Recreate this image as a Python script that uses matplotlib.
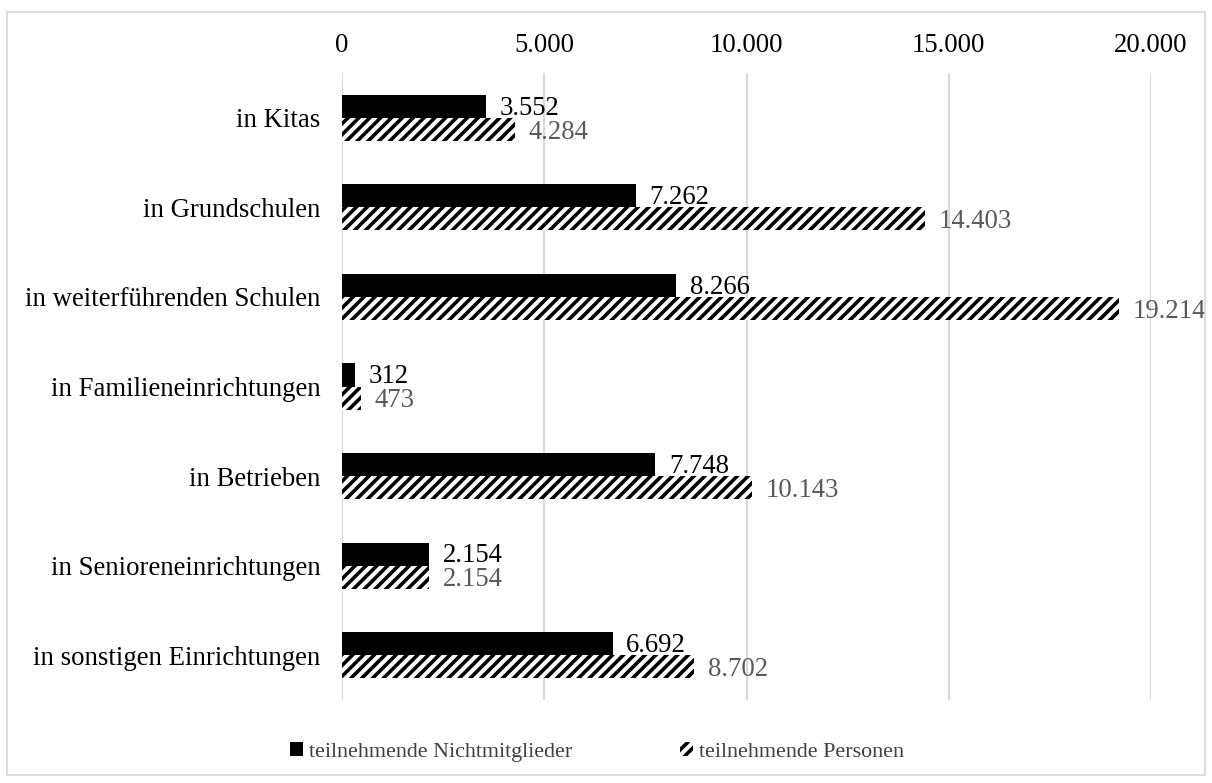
import matplotlib
matplotlib.use("Agg")
import matplotlib.pyplot as plt
from matplotlib.patches import Rectangle, Patch
from matplotlib.ticker import FuncFormatter

categories = [
    "in Kitas",
    "in Grundschulen",
    "in weiterführenden Schulen",
    "in Familieneinrichtungen",
    "in Betrieben",
    "in Senioreneinrichtungen",
    "in sonstigen Einrichtungen",
]
nichtmitglieder = [3552, 7262, 8266, 312, 7748, 2154, 6692]
personen = [4284, 14403, 19214, 473, 10143, 2154, 8702]
series_names = ["teilnehmende Nichtmitglieder", "teilnehmende Personen"]
x_ticks = [0, 5000, 10000, 15000, 20000]


def de_format(v):
    return f"{int(round(v)):,}".replace(",", ".")


DPI = 130
FS = 14.8
plt.rcParams["font.family"] = ["Liberation Serif", "DejaVu Serif"]
plt.rcParams["hatch.linewidth"] = 2.0

fig = plt.figure(figsize=(1212 / DPI, 783 / DPI), dpi=DPI)
ax = fig.add_axes([342 / 1212, 1 - 700 / 783, (1151 - 342) / 1212, (700 - 73) / 783])

grid_col = "#d9d9d9"
bar_h = 0.257
ys = list(range(len(categories)))

ax.barh([y - bar_h / 2 for y in ys], nichtmitglieder, height=bar_h,
        color="black", linewidth=0, zorder=3)
ax.barh([y + bar_h / 2 for y in ys], personen, height=bar_h,
        color="white", edgecolor="black", hatch="////", linewidth=0, zorder=3)

for y, v in zip(ys, nichtmitglieder):
    ax.annotate(de_format(v), (v, y - bar_h / 2), xytext=(7.5, -1),
                textcoords="offset points", ha="left", va="center",
                fontsize=FS, color="black", zorder=4)
for y, v in zip(ys, personen):
    ax.annotate(de_format(v), (v, y + bar_h / 2), xytext=(7.5, -1.5),
                textcoords="offset points", ha="left", va="center",
                fontsize=FS, color="#595959", zorder=4)

ax.set_xlim(0, 20000)
ax.set_ylim(len(categories) - 0.5, -0.5)
ax.set_xticks(x_ticks)
ax.xaxis.set_major_formatter(FuncFormatter(lambda v, p: de_format(v)))
ax.xaxis.tick_top()
ax.tick_params(axis="x", length=0, pad=8.3, labelsize=FS, labelcolor="black")
ax.set_yticks(ys)
ax.set_yticklabels(categories)
ax.tick_params(axis="y", length=0, pad=12, labelsize=FS, labelcolor="black")
ax.grid(axis="x", color=grid_col, linewidth=1.2, zorder=0)
ax.set_axisbelow(True)
for s in ax.spines.values():
    s.set_visible(False)

handles = [
    Patch(facecolor="black", edgecolor="black", linewidth=0),
    Patch(facecolor="white", edgecolor="black", hatch="////", linewidth=0),
]
fig.legend(handles, series_names, loc="center",
           bbox_to_anchor=(597 / 1212, 1 - 752 / 783), ncol=2, frameon=False,
           fontsize=12.2, labelcolor="#404040", handlelength=0.6,
           handleheight=0.6, handletextpad=0.3, columnspacing=4.86)

fig.patches.append(Rectangle((7 / 1212, 1 - 775 / 783), (1205 - 7) / 1212,
                             (775 - 12) / 783, transform=fig.transFigure,
                             fill=False, edgecolor=grid_col, linewidth=1.0))

fig.savefig("out.png", dpi=DPI)
